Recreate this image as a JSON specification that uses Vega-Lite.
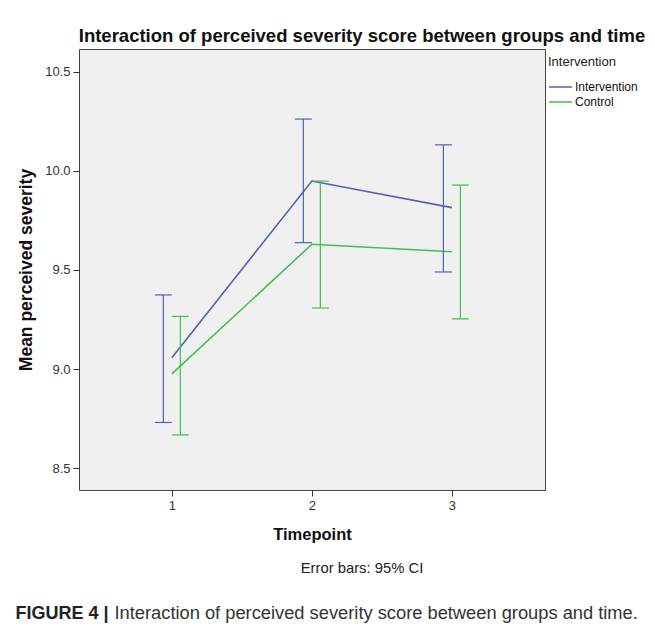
{
  "$schema": "https://vega.github.io/schema/vega-lite/v6.json",
  "width": 466,
  "height": 441,
  "autosize": {"type": "none"},
  "padding": {"left": 79, "top": 49, "right": 110, "bottom": 145},
  "background": "white",
  "config": {
    "font": "Liberation Sans",
    "view": {"fill": "#f0f0f0", "stroke": "#444444", "strokeWidth": 1},
    "axis": {"grid": false, "domain": false, "tickColor": "#333333", "tickSize": 6, "labelColor": "#333333", "labelFontSize": 13, "labelFont": "Liberation Sans", "titleColor": "#111111", "titleFont": "Liberation Sans"}
  },
  "title": {
    "text": "Interaction of perceived severity score between groups and time",
    "subtitle": "Error bars: 95% CI",
    "orient": "bottom",
    "anchor": "middle",
    "frame": "group",
    "dx": 50,
    "dy": -599,
    "font": "Liberation Sans",
    "fontSize": 18.5,
    "fontWeight": "bold",
    "color": "#111111",
    "subtitleFont": "Liberation Sans",
    "subtitleFontSize": 14.8,
    "subtitleColor": "#222222",
    "subtitlePadding": 515
  },
  "data": {
    "values": [
      {"group": "Intervention", "time": 1, "mean": 9.057, "lo": 8.730, "hi": 9.374},
      {"group": "Intervention", "time": 2, "mean": 9.949, "lo": 9.638, "hi": 10.262},
      {"group": "Intervention", "time": 3, "mean": 9.815, "lo": 9.490, "hi": 10.132},
      {"group": "Control", "time": 1, "mean": 8.975, "lo": 8.667, "hi": 9.266},
      {"group": "Control", "time": 2, "mean": 9.630, "lo": 9.308, "hi": 9.949},
      {"group": "Control", "time": 3, "mean": 9.592, "lo": 9.253, "hi": 9.929}
    ]
  },
  "layer": [
    {
      "mark": {"type": "line", "strokeWidth": 1.6},
      "encoding": {
        "x": {"field": "time", "type": "quantitative", "scale": {"domain": [0.337, 3.665], "nice": false, "zero": false},
              "axis": {"orient": "bottom", "values": [1, 2, 3], "format": "d", "title": "Timepoint", "titleFontSize": 16.5, "titleFontWeight": "bold", "titleBaseline": "alphabetic", "titleY": 49, "labelPadding": 3}},
        "y": {"field": "mean", "type": "quantitative", "scale": {"domain": [8.389, 10.616], "nice": false, "zero": false},
              "axis": {"orient": "left", "values": [8.5, 9, 9.5, 10, 10.5], "format": ".1f", "title": "Mean perceived severity", "titleFontSize": 17.5, "titleFontWeight": "bold", "titleBaseline": "alphabetic", "titleX": -48, "titleY": 220.5, "labelPadding": 3}},
        "color": {"field": "group", "type": "nominal", "scale": {"domain": ["Intervention", "Control"], "range": ["#4f62b2", "#3fc152"]},
                  "legend": {"title": "Intervention", "orient": "none", "legendX": 469, "legendY": 7, "symbolType": "stroke", "symbolSize": 529, "symbolStrokeWidth": 1.6, "clipHeight": 12, "titleFontSize": 13, "titleFontWeight": "normal", "titleColor": "#222222", "labelFontSize": 12, "labelColor": "#111111", "labelOffset": 2, "titlePadding": 12, "rowPadding": 3}}
      }
    },
    {
      "transform": [{"filter": "datum.group === 'Intervention'"}],
      "mark": {"type": "rule", "xOffset": -8.5, "strokeWidth": 1.2},
      "encoding": {
        "x": {"field": "time", "type": "quantitative", "scale": {"domain": [0.337, 3.665], "nice": false, "zero": false}, "axis": null},
        "y": {"field": "lo", "type": "quantitative", "scale": {"domain": [8.389, 10.616], "nice": false, "zero": false}, "axis": null},
        "y2": {"field": "hi"},
        "color": {"field": "group", "type": "nominal", "legend": null}
      }
    },
    {
      "transform": [{"filter": "datum.group === 'Control'"}],
      "mark": {"type": "rule", "xOffset": 8.5, "strokeWidth": 1.2},
      "encoding": {
        "x": {"field": "time", "type": "quantitative", "scale": {"domain": [0.337, 3.665], "nice": false, "zero": false},
              "axis": {"orient": "top", "title": "FIGURE 4 |", "labels": false, "ticks": false, "domain": false, "values": [], "titleAngle": 0, "titleAlign": "left", "titleBaseline": "alphabetic", "titleX": -64, "titleY": 569, "titleFontSize": 18, "titleFontWeight": "bold", "titleColor": "#222222", "titleLimit": 1000}},
        "y": {"field": "lo", "type": "quantitative", "scale": {"domain": [8.389, 10.616], "nice": false, "zero": false},
              "axis": {"orient": "right", "title": "Interaction of perceived severity score between groups and time.", "labels": false, "ticks": false, "domain": false, "values": [], "titleAngle": 0, "titleAlign": "left", "titleBaseline": "alphabetic", "titleX": -431, "titleY": 569, "titleFontSize": 18.3, "titleFontWeight": "normal", "titleColor": "#333333", "titleLimit": 1000}},
        "y2": {"field": "hi"},
        "color": {"field": "group", "type": "nominal", "legend": null}
      }
    },
    {
      "transform": [{"filter": "datum.group === 'Intervention'"}, {"fold": ["lo", "hi"], "as": ["bound", "value"]}],
      "mark": {"type": "tick", "orient": "horizontal", "size": 17, "thickness": 1.2, "opacity": 1, "xOffset": -8.5},
      "encoding": {
        "x": {"field": "time", "type": "quantitative", "scale": {"domain": [0.337, 3.665], "nice": false, "zero": false}, "axis": null},
        "y": {"field": "value", "type": "quantitative", "scale": {"domain": [8.389, 10.616], "nice": false, "zero": false}, "axis": null},
        "color": {"field": "group", "type": "nominal", "legend": null}
      }
    },
    {
      "transform": [{"filter": "datum.group === 'Control'"}, {"fold": ["lo", "hi"], "as": ["bound", "value"]}],
      "mark": {"type": "tick", "orient": "horizontal", "size": 17, "thickness": 1.2, "opacity": 1, "xOffset": 8.5},
      "encoding": {
        "x": {"field": "time", "type": "quantitative", "scale": {"domain": [0.337, 3.665], "nice": false, "zero": false}, "axis": null},
        "y": {"field": "value", "type": "quantitative", "scale": {"domain": [8.389, 10.616], "nice": false, "zero": false}, "axis": null},
        "color": {"field": "group", "type": "nominal", "legend": null}
      }
    }
  ]
}
